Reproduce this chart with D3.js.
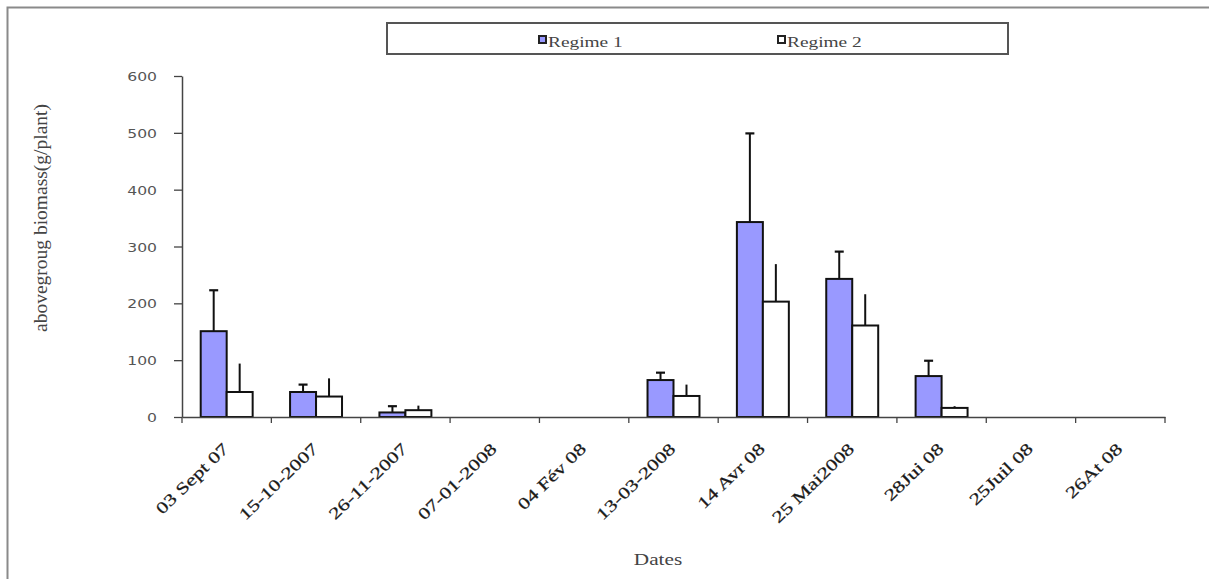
<!DOCTYPE html>
<html><head><meta charset="utf-8">
<script src="https://cdn.jsdelivr.net/npm/d3@7"></script>
<style>
html,body{margin:0;padding:0;background:#fff;}
svg{display:block;}
</style></head>
<body>
<svg id="chart" width="1209" height="579"></svg>
<script>
const categories = ["03 Sept 07","15-10-2007","26-11-2007","07-01-2008","04 Fév 08","13-03-2008","14 Avr 08","25 Mai2008","28Jui 08","25Juil 08","26At 08"];
const seriesNames = ["Regime 1","Regime 2"];
const regime1 = [151, 44, 8, 0, 0, 65, 343, 243, 72, 0, 0];
const regime1Err = [223, 57, 19, 0, 0, 78, 499, 291, 99, 0, 0];
const regime2 = [44, 36, 12, 0, 0, 37, 203, 161, 16, 0, 0];
const regime2Err = [94, 68, 20, 0, 0, 57, 269, 216, 19, 0, 0];
const yTicks = [0,100,200,300,400,500,600];
const yLabel = "abovegroug biomass(g/plant)";
const xLabel = "Dates";

(function(){
const svg = d3.select("#chart");
const serif = "'Liberation Serif','Times New Roman',serif";
const SX = 1.25;

svg.append("rect").attr("x",7.5).attr("y",7.5).attr("width",1215).attr("height",590)
  .attr("fill","none").attr("stroke","#8a8a8a").attr("stroke-width",2);

const pLeft = 182, pRight = 1165, pTop = 76, pBottom = 417;
const x = d3.scaleBand().domain(categories).range([pLeft,pRight]).paddingInner(0).paddingOuter(0);
const xs = d3.scaleBand().domain(seriesNames).range([0,x.bandwidth()]).paddingInner(0).paddingOuter(0.72);
const y = d3.scaleLinear().domain([0,600]).range([pBottom,pTop]);

const data = categories.map((c,i)=>({cat:c, vals:[
  {s:"Regime 1", v:regime1[i], e:regime1Err[i]},
  {s:"Regime 2", v:regime2[i], e:regime2Err[i]}]}));

const fills = {"Regime 1":"#9999ff","Regime 2":"#ffffff"};

const eg = svg.append("g");
data.forEach(d=>{
  d.vals.forEach(s=>{
    if (s.e > s.v) {
      const cx = x(d.cat) + xs(s.s) + xs.bandwidth()/2;
      eg.append("line").attr("x1",cx).attr("x2",cx).attr("y1",y(s.v)).attr("y2",y(s.e))
        .attr("stroke","#111").attr("stroke-width",2);
      if (s.s === "Regime 1") {
        eg.append("line").attr("x1",cx-4.5).attr("x2",cx+4.5).attr("y1",y(s.e)).attr("y2",y(s.e))
          .attr("stroke","#111").attr("stroke-width",2.2);
      }
    }
  });
});

const bg = svg.append("g");
data.forEach(d=>{
  d.vals.forEach(s=>{
    if (s.v > 0) {
      bg.append("rect").attr("x",x(d.cat)+xs(s.s)).attr("y",y(s.v))
        .attr("width",xs.bandwidth()).attr("height",y(0)-y(s.v))
        .attr("fill",fills[s.s]).attr("stroke","#111").attr("stroke-width",2);
    }
  });
});

const yAxis = svg.append("g").attr("transform",`translate(${pLeft},0)`)
  .call(d3.axisLeft(y).tickValues(yTicks).tickSize(8).tickSizeOuter(0));
yAxis.select(".domain").attr("stroke","#444").attr("stroke-width",1.5);
yAxis.selectAll(".tick line").attr("stroke","#444").attr("stroke-width",1.3);
yAxis.selectAll(".tick text").attr("x",0).attr("dy","0.36em")
  .attr("transform",`translate(-25,0) scale(${SX},1)`)
  .attr("font-family","'DejaVu Sans',Verdana,sans-serif").attr("font-size",12.5).attr("fill","#555");

const xAxis = svg.append("g").attr("transform",`translate(0,${pBottom})`)
  .call(d3.axisBottom(x).tickSize(0).tickFormat(""));
xAxis.select(".domain").attr("stroke","#444").attr("stroke-width",1.5);
const bounds = categories.map(c=>x(c)).concat([x.range()[1]]);
xAxis.selectAll(".bt").data(bounds).enter().append("line").attr("class","bt")
  .attr("x1",d=>d).attr("x2",d=>d).attr("y1",0).attr("y2",6)
  .attr("stroke","#444").attr("stroke-width",1.3);
xAxis.selectAll(".lbl").data(categories).enter().append("text").attr("class","lbl")
  .attr("text-anchor","end")
  .attr("transform",d=>`translate(${x(d)+x.bandwidth()/2+3},${33}) rotate(-44) scale(1.33,1)`)
  .attr("font-family",serif).attr("font-size",16.5).attr("fill","#1a1a1a")
  .attr("stroke","#1a1a1a").attr("stroke-width",0.25).text(d=>d);

svg.append("text").attr("text-anchor","middle")
  .attr("transform",`translate(658,565) scale(${SX},1)`)
  .attr("font-family",serif).attr("font-size",17).attr("fill","#444").text(xLabel);
svg.append("text").attr("text-anchor","middle")
  .attr("transform",`translate(47,218) rotate(-90)`)
  .attr("font-family",serif).attr("font-size",19.5).attr("fill","#444").text(yLabel);

const lg = svg.append("g");
lg.append("rect").attr("x",387).attr("y",23).attr("width",621).attr("height",31)
  .attr("fill","#fff").attr("stroke","#555").attr("stroke-width",2);
const legPos = [538, 777];
seriesNames.forEach((s,i)=>{
  lg.append("rect").attr("x",legPos[i]+1).attr("y",36).attr("width",7).attr("height",7)
    .attr("fill",fills[s]).attr("stroke","#222").attr("stroke-width",2);
  lg.append("text").attr("transform",`translate(${legPos[i]+10},47) scale(${SX},1)`)
    .attr("font-family",serif).attr("font-size",15.5).attr("fill","#444").text(s);
});
})();
</script>
</body></html>
